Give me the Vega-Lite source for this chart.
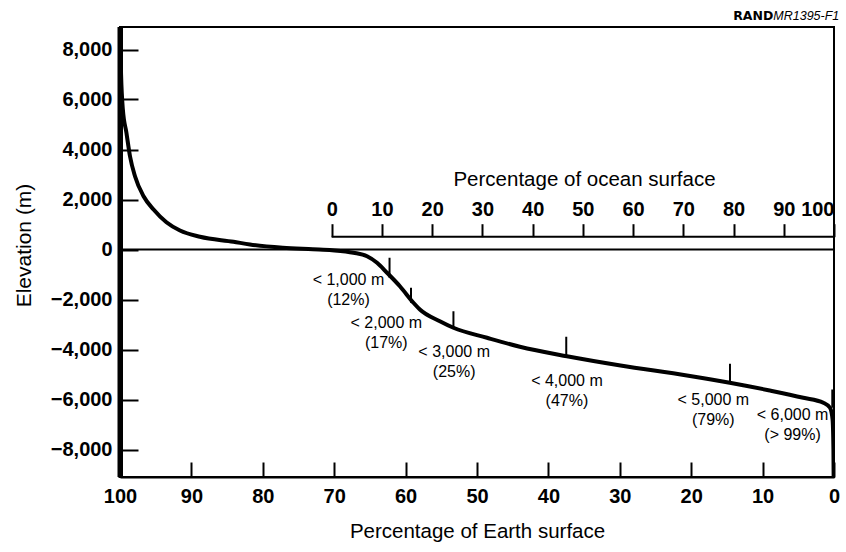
{
  "$schema": "https://vega.github.io/schema/vega-lite/v6.json",
  "width": 714,
  "height": 450,
  "autosize": {"type": "none"},
  "padding": {"left": 120, "top": 27, "right": 12, "bottom": 75},
  "background": "white",
  "config": {
    "view": {"stroke": "black", "strokeWidth": 2},
    "font": "Liberation Sans",
    "axis": {"labelFont": "Liberation Sans", "titleFont": "Liberation Sans", "labelColor": "black", "titleColor": "black", "domainColor": "black", "tickColor": "black", "grid": false}
  },
  "datasets": {
    "curve": [
      {"earth": 100, "elev": 8848},
      {"earth": 99.85, "elev": 7000},
      {"earth": 99.6, "elev": 5600},
      {"earth": 99.1, "elev": 4670},
      {"earth": 98.6, "elev": 3730},
      {"earth": 97.9, "elev": 2930},
      {"earth": 96.7, "elev": 2130},
      {"earth": 95.3, "elev": 1600},
      {"earth": 93.5, "elev": 1090},
      {"earth": 91.6, "elev": 760},
      {"earth": 88.8, "elev": 510},
      {"earth": 84.1, "elev": 310},
      {"earth": 81.8, "elev": 200},
      {"earth": 77.2, "elev": 70},
      {"earth": 73.0, "elev": 10},
      {"earth": 70.3, "elev": -30},
      {"earth": 67.3, "elev": -130},
      {"earth": 65.4, "elev": -270},
      {"earth": 64.0, "elev": -530},
      {"earth": 62.6, "elev": -930},
      {"earth": 60.8, "elev": -1470},
      {"earth": 58.9, "elev": -2130},
      {"earth": 58.0, "elev": -2400},
      {"earth": 55.2, "elev": -2870},
      {"earth": 53.3, "elev": -3130},
      {"earth": 48.6, "elev": -3530},
      {"earth": 44.0, "elev": -3890},
      {"earth": 37.4, "elev": -4270},
      {"earth": 29.9, "elev": -4640},
      {"earth": 20.6, "elev": -5040},
      {"earth": 14.6, "elev": -5330},
      {"earth": 9.0, "elev": -5640},
      {"earth": 4.3, "elev": -5930},
      {"earth": 1.5, "elev": -6130},
      {"earth": 0.56, "elev": -6330},
      {"earth": 0.2, "elev": -6800},
      {"earth": 0.08, "elev": -8000},
      {"earth": 0, "elev": -11000}
    ],
    "depthTicks": [
      {"earth": 62.25, "top": -330, "bottom": -1130},
      {"earth": 59.24, "top": -1530, "bottom": -2130},
      {"earth": 53.3, "top": -2470, "bottom": -3130},
      {"earth": 37.5, "top": -3490, "bottom": -4270},
      {"earth": 14.57, "top": -4570, "bottom": -5270},
      {"earth": 0.24, "top": -5600, "bottom": -6330}
    ],
    "depthLabels": [
      {"earth": 68.0, "elev": -896, "label": "< 1,000 m\n(12%)"},
      {"earth": 62.7, "elev": -2628, "label": "< 2,000 m\n(17%)"},
      {"earth": 53.2, "elev": -3764, "label": "< 3,000 m\n(25%)"},
      {"earth": 37.4, "elev": -4936, "label": "< 4,000 m\n(47%)"},
      {"earth": 16.9, "elev": -5696, "label": "< 5,000 m\n(79%)"},
      {"earth": 5.8, "elev": -6296, "label": "< 6,000 m\n(> 99%)"}
    ],
    "one": [{}]
  },
  "layer": [
    {
      "layer": [
        {
          "data": {"name": "curve"},
          "mark": {"type": "line", "color": "black", "strokeWidth": 4, "interpolate": "monotone", "clip": true},
          "encoding": {
            "x": {
              "field": "earth", "type": "quantitative",
              "scale": {"domain": [0, 100], "reverse": true, "nice": false, "zero": false},
              "axis": {
                "orient": "bottom",
                "values": [0, 10, 20, 30, 40, 50, 60, 70, 80, 90, 100],
                "title": "Percentage of Earth surface",
                "titleFontSize": 20.5, "titleFontWeight": "normal",
                "titleX": 357, "titleY": 60, "titleBaseline": "alphabetic", "titleAlign": "center", "titleAnchor": null,
                "labelFontSize": 20, "labelFontWeight": "bold",
                "tickSize": -15, "tickWidth": 2, "domainWidth": 2,
                "labelPadding": 24.5, "labelFlush": false, "labelOverlap": false
              }
            },
            "y": {
              "field": "elev", "type": "quantitative",
              "scale": {"domain": [-9100, 8900], "nice": false, "zero": false},
              "axis": {
                "values": [-8000, -6000, -4000, -2000, 0, 2000, 4000, 6000, 8000],
                "format": ",.0f",
                "title": "Elevation (m)",
                "titleFontSize": 21, "titleFontWeight": "normal",
                "titleAngle": -90, "titleX": -90, "titleY": 218, "titleBaseline": "alphabetic", "titleAlign": "center", "titleAnchor": null,
                "labelFontSize": 20, "labelFontWeight": "bold",
                "tickSize": -18, "tickWidth": 2, "domainWidth": 5,
                "labelPadding": 26, "labelFlush": false, "labelOverlap": false
              }
            }
          }
        },
        {
          "data": {"name": "one"},
          "mark": {"type": "rule", "color": "black", "strokeWidth": 2},
          "encoding": {"y": {"datum": 0, "type": "quantitative"}}
        },
        {
          "data": {"name": "one"},
          "mark": {"type": "rule", "color": "black", "strokeWidth": 5},
          "encoding": {"x": {"datum": 100, "type": "quantitative"}}
        },
        {
          "data": {"name": "depthTicks"},
          "mark": {"type": "rule", "color": "black", "strokeWidth": 2},
          "encoding": {
            "x": {"field": "earth", "type": "quantitative"},
            "y": {"field": "top", "type": "quantitative"},
            "y2": {"field": "bottom"}
          }
        },
        {
          "data": {"name": "depthLabels"},
          "mark": {"type": "text", "font": "Liberation Sans", "fontSize": 16, "align": "center", "baseline": "top", "lineBreak": "\n", "lineHeight": 20, "color": "black"},
          "encoding": {
            "x": {"field": "earth", "type": "quantitative"},
            "y": {"field": "elev", "type": "quantitative"},
            "text": {"field": "label"}
          }
        },
        {
          "data": {"name": "one"},
          "mark": {"type": "text", "font": "DejaVu Sans", "fontWeight": "bold", "fontSize": 12.5, "align": "right", "baseline": "alphabetic", "color": "black", "clip": false},
          "encoding": {
            "x": {"datum": 8.5, "type": "quantitative"},
            "y": {"datum": 9180, "type": "quantitative"},
            "text": {"value": "RAND"}
          }
        },
        {
          "data": {"name": "one"},
          "mark": {"type": "text", "font": "Liberation Sans", "fontStyle": "italic", "fontSize": 12.5, "align": "left", "baseline": "alphabetic", "color": "black", "clip": false},
          "encoding": {
            "x": {"datum": 8.5, "type": "quantitative"},
            "y": {"datum": 9180, "type": "quantitative"},
            "text": {"value": "MR1395-F1"}
          }
        }
      ]
    },
    {
      "data": {"name": "one"},
      "mark": {"type": "rule", "color": "black", "strokeWidth": 2},
      "encoding": {
        "x": {
          "datum": 0, "type": "quantitative",
          "scale": {"domain": [-42.15, 100], "nice": false, "zero": false},
          "axis": {
            "orient": "top",
            "offset": -209.7,
            "domain": false,
            "values": [0, 10, 20, 30, 40, 50, 60, 70, 80, 90, 100],
            "title": "Percentage of ocean surface",
            "titleFontSize": 20.5, "titleFontWeight": "normal",
            "titleX": 464, "titleY": -51.7, "titleBaseline": "alphabetic", "titleAlign": "center", "titleAnchor": null,
            "labelFontSize": 20, "labelFontWeight": "bold",
            "tickSize": 13, "tickWidth": 2,
            "labelPadding": 4.5, "labelFlush": true, "labelOverlap": false
          }
        },
        "x2": {"datum": 100},
        "y": {"datum": 512, "type": "quantitative"}
      }
    }
  ],
  "resolve": {"scale": {"x": "independent"}, "axis": {"x": "independent"}}
}
